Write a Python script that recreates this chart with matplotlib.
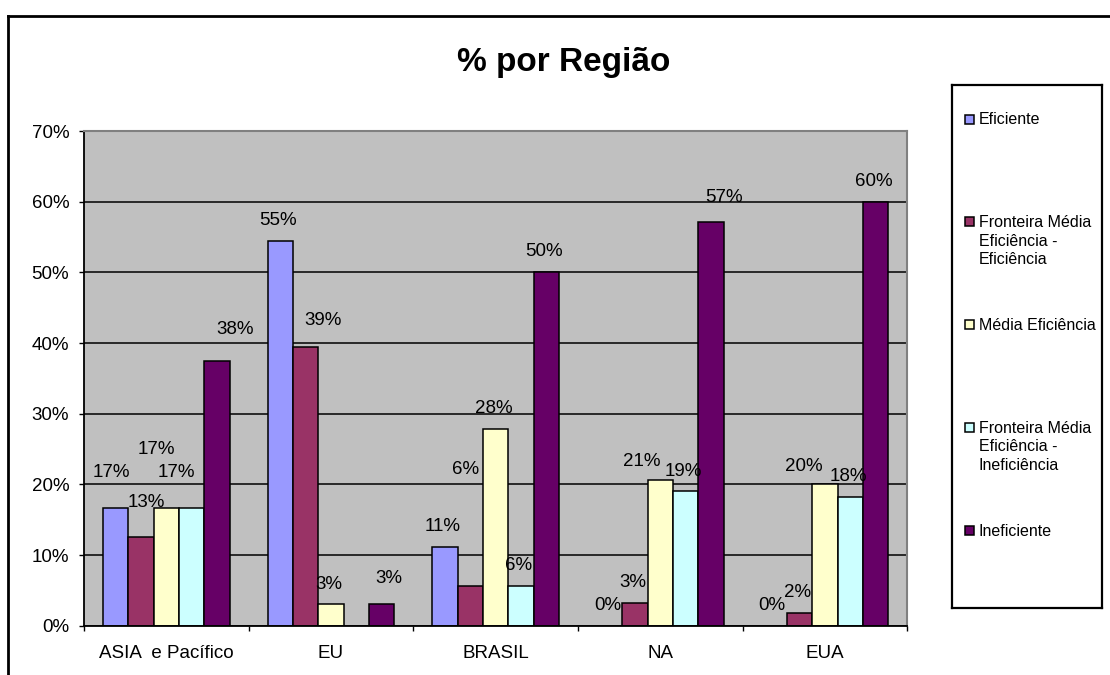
import math
import numpy as np
import matplotlib
matplotlib.use('Agg')
import matplotlib.pyplot as plt
from matplotlib.patches import Rectangle
from matplotlib.lines import Line2D

plt.rcParams['font.family'] = ['Liberation Sans', 'DejaVu Sans']

# dados (%)
regioes = ['ASIA  e Pacífico', 'EU', 'BRASIL', 'NA', 'EUA']
nomes_series = ['Eficiente',
                'Fronteira Média\nEficiência -\nEficiência',
                'Média Eficiência',
                'Fronteira Média\nEficiência -\nIneficiência',
                'Ineficiente']
eficiente = [16.7, 54.5, 11.1, 0.0, 0.0]
fronteira_ef = [12.5, 39.4, 5.6, 3.2, 1.8]
media_ef = [16.7, 3.0, 27.8, 20.6, 20.0]
fronteira_inef = [16.7, np.nan, 5.6, 19.0, 18.2]
ineficiente = [37.5, 3.0, 50.0, 57.1, 60.0]
y_ticks = [0, 10, 20, 30, 40, 50, 60, 70]

series = [eficiente, fronteira_ef, media_ef, fronteira_inef, ineficiente]
cores = ['#9999FF', '#993366', '#FFFFCC', '#CCFFFF', '#660066']

W, H = 1110, 675
fig = plt.figure(figsize=(W / 100, H / 100), dpi=100)

# moldura do grafico (so esquerda e topo aparecem no recorte)
fig.add_artist(Line2D([8 / W, 8 / W], [0, 1 - 16 / H], color='black', lw=2))
fig.add_artist(Line2D([8 / W, 1], [1 - 16 / H, 1 - 16 / H], color='black', lw=2))

fig.text(564 / W, 1 - 71 / H, '% por Região', ha='center', va='baseline',
         fontsize=24, fontweight='bold')

ax = fig.add_axes([84 / W, 1 - 625.7 / H, (907.3 - 84) / W, (625.7 - 131) / H])
ax.set_facecolor('#C0C0C0')
ax.set_xlim(-0.5, 4.5)
ax.set_ylim(0, 70)
ax.set_axisbelow(True)
ax.yaxis.grid(True, color='black', linewidth=1.1)

larg = 0.154
x = np.arange(len(regioes))

# deslocamento dos rotulos (px) - o excel empurrou alguns
desl_padrao = (-2, 22.5)
desl = {(0, 0): (-4, 37), (1, 0): (5.7, 37), (2, 0): (-10, 60), (3, 0): (-15, 37),
        (4, 0): (17.7, 33), (1, 1): (17, 29), (4, 1): (7.3, 28), (1, 2): (-5, 119),
        (2, 3): (-18.7, 20.7), (4, 3): (12.7, 27), (2, 4): (-20.7, 20)}

for j, vals in enumerate(series):
    pos = x + (j - 2) * larg
    for i, v in enumerate(vals):
        if np.isnan(v):
            continue
        if v > 0:
            ax.bar(pos[i], v, larg, color=cores[j], edgecolor='black',
                   linewidth=1.1, zorder=2)
        dx, dy = desl.get((j, i), desl_padrao)
        ax.annotate(f'{math.floor(v + 0.5)}%', xy=(pos[i], v),
                    xytext=(dx, dy - 6.6), textcoords='offset pixels',
                    ha='center', va='baseline', fontsize=13.5, zorder=3)

ax.set_yticks(y_ticks)
ax.set_yticklabels([f'{t}%' for t in y_ticks], fontsize=13.5)
ax.tick_params(axis='y', length=3.6, width=1, pad=7, direction='out')
ax.set_xticks(x)
ax.set_xticklabels(regioes, fontsize=13.5)
ax.set_xticks(np.arange(-0.5, 5, 1), minor=True)
ax.tick_params(axis='x', which='major', length=0, pad=14)
ax.tick_params(axis='x', which='minor', length=3.6, width=1, direction='out')

for s in ['top', 'right']:
    ax.spines[s].set_color('#808080')
    ax.spines[s].set_linewidth(1.5)
for s in ['left', 'bottom']:
    ax.spines[s].set_color('black')
    ax.spines[s].set_linewidth(1.3)

# legenda desenhada a mao, em pixels da caixa
lx0, ly0, lx1, ly1 = 951.7, 85, 1102.3, 607.7
lg = fig.add_axes([lx0 / W, 1 - ly1 / H, (lx1 - lx0) / W, (ly1 - ly0) / H])
lg.set_xlim(0, lx1 - lx0)
lg.set_ylim(ly1 - ly0, 0)
lg.set_xticks([])
lg.set_yticks([])
for s in lg.spines.values():
    s.set_linewidth(1.6)
    s.set_color('black')
passo = (530 - 119) / (len(nomes_series) - 1)
for j, nome in enumerate(nomes_series):
    yc = 119 - ly0 + j * passo
    lg.add_patch(Rectangle((17.3 - 4.5, yc - 4.5), 9, 9, facecolor=cores[j],
                           edgecolor='black', linewidth=1.1))
    lg.text(27.3, yc - 6.5, nome, ha='left', va='top', fontsize=11.5,
            linespacing=1.3)

fig.savefig('out.png', dpi=100)
